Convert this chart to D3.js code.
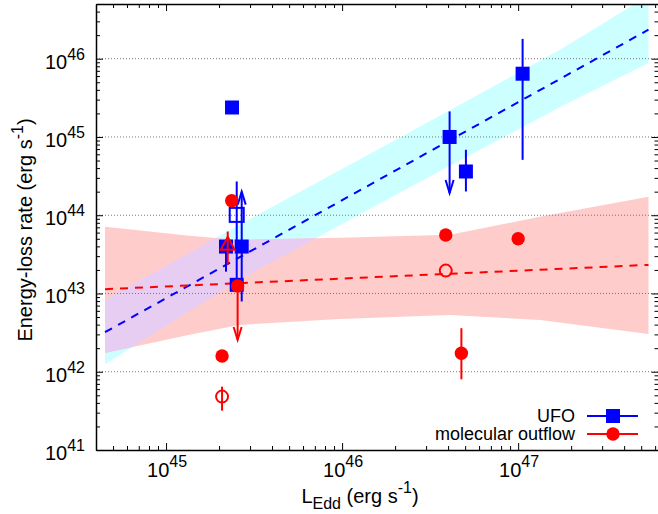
<!DOCTYPE html>
<html>
<head>
<meta charset="utf-8">
<script src="https://cdn.jsdelivr.net/npm/d3@7"></script>
<style>
body{margin:0;background:#fff}
svg{display:block;font-family:"Liberation Sans",Arial,sans-serif}
</style>
</head>
<body>
<div id="chart"></div>
<script>
// axis ranges and tick exponents
const xDomain=[4e44,6.27e47];
const yDomain=[1e41,5e46];
const xTickExps=[45,46,47];
const yTickExps=[41,42,43,44,45,46];
const gridExps=[42,43,44,45,46];

// UFO points (lo/hi = error bar ends, limit = arrow direction)
const ufoPoints=[
  {x:2.37e45,y:2.38e45},
  {x:2.19e45,y:3.98e43,lo:1.9e43},
  {x:2.52e45,y:1.01e44,lo:1.5e43,hi:2.7e44,open:true},
  {x:2.69e45,y:3.98e43,lo:7.9e42,hi:2.0e44,limit:'lower'},
  {x:2.52e45,y:1.29e43},
  {x:4.08e46,y:1.0e45,lo:1.92e44,hi:2.12e45,limit:'upper'},
  {x:5.05e46,y:3.62e44,lo:2.01e44,hi:6.86e44},
  {x:1.06e47,y:6.43e45,lo:5.1e44,hi:1.79e46}
];
// molecular outflow points
const outflowPoints=[
  {x:3.88e46,y:5.6e43},
  {x:1.0e47,y:5.0e43},
  {x:4.76e46,y:1.72e42,lo:8.0e41,hi:3.6e42},
  {x:3.88e46,y:1.96e43,open:true},
  {x:2.36e45,y:1.53e44},
  {x:2.24e45,y:4.18e43,lo:2.32e43,hi:6.2e43,tri:true},
  {x:2.55e45,y:1.25e43,lo:2.55e42,limit:'upper'},
  {x:2.08e45,y:1.59e42},
  {x:2.08e45,y:4.81e41,lo:3.18e41,hi:6.45e41,open:true}
];

// best-fit lines and confidence bands
const ufoFit=[{x:4.5e44,y:3.2e42},{x:5.5e47,y:2.35e46}];
const outflowFit=[{x:4.5e44,y:1.135e43},{x:5.5e47,y:2.32e43}];
const ufoBand=[
  {x:4.5e44,lo:1.25e42,hi:8.28e42},
  {x:2.6e45,lo:1.49e43,hi:7.53e43},
  {x:2.12e46,lo:1.93e44,hi:9.77e44},
  {x:1.73e47,lo:2.41e45,hi:1.30e46},
  {x:5.5e47,lo:8.81e45,hi:6.4e46}
];
const outflowBand=[
  {x:4.5e44,lo:1.74e42,hi:7.11e43},
  {x:1.36e45,lo:2.96e42,hi:5.46e43},
  {x:2.6e45,lo:3.96e42,hi:4.84e43},
  {x:9.7e45,lo:4.73e42,hi:5.14e43},
  {x:4.1e46,lo:5.32e42,hi:5.61e43},
  {x:1.33e47,lo:4.59e42,hi:9.55e43},
  {x:5.5e47,lo:3.04e42,hi:1.72e44}
];
const legendLabels=['UFO','molecular outflow'];

const W=658,H=514,L=96,R=658.5,T=4,B=450;
const blue='#0000ff',red='#ff0000';

const svg=d3.select('#chart').append('svg').attr('width',W).attr('height',H);
const x=d3.scaleLog().domain(xDomain).range([L,R]);
const y=d3.scaleLog().domain(yDomain).range([B,T]);

const defs=svg.append('defs');
defs.append('clipPath').attr('id','plot').append('rect')
  .attr('x',L).attr('y',T).attr('width',R-L).attr('height',B-T);
const area=d3.area().x(d=>x(d.x)).y0(d=>y(d.lo)).y1(d=>y(d.hi));
defs.append('clipPath').attr('id','pinkclip').append('path').attr('d',area(outflowBand));

const bands=svg.append('g').attr('clip-path','url(#plot)');
bands.append('path').attr('d',area(ufoBand)).attr('fill','#ccffff');
bands.append('path').attr('d',area(outflowBand)).attr('fill','#ffcccc');
bands.append('g').attr('clip-path','url(#pinkclip)')
  .append('path').attr('d',area(ufoBand)).attr('fill','#e8cdf2');

// grid
svg.append('g').selectAll('line').data(gridExps).join('line')
  .attr('x1',L).attr('x2',R)
  .attr('y1',d=>y(Math.pow(10,d))).attr('y2',d=>y(Math.pow(10,d)))
  .attr('stroke','#777').attr('stroke-width',1).attr('stroke-dasharray','1,2');

// axes with minor ticks
const isMajor=v=>Math.abs(Math.log10(v)-Math.round(Math.log10(v)))<1e-6;
const logTicks=dom=>{
  const out=[];
  for(let e=Math.floor(Math.log10(dom[0]));e<=Math.ceil(Math.log10(dom[1]));e++)
    for(let k=1;k<10;k++){const v=k*Math.pow(10,e);if(v>=dom[0]*0.999&&v<=dom[1])out.push(v);}
  return out;
};
const xt=logTicks(xDomain),yt=logTicks(yDomain);
function styleAxis(g,horiz,sign){
  g.select('.domain').attr('stroke','#000').attr('stroke-width',1.5);
  g.selectAll('.tick text').remove();
  g.selectAll('.tick line').attr('stroke','#000').attr('stroke-width',1)
    .attr(horiz?'y2':'x2',d=>sign*(isMajor(d)?7:4));
}
svg.append('g').attr('transform',`translate(0,${B})`)
  .call(d3.axisBottom(x).tickValues(xt).tickSizeOuter(0)).call(g=>styleAxis(g,true,-1));
svg.append('g').attr('transform',`translate(0,${T})`)
  .call(d3.axisTop(x).tickValues(xt).tickSizeOuter(0)).call(g=>styleAxis(g,true,1));
svg.append('g').attr('transform',`translate(${L},0)`)
  .call(d3.axisLeft(y).tickValues(yt).tickSizeOuter(0)).call(g=>styleAxis(g,false,1));
svg.append('g').attr('transform',`translate(${R},0)`)
  .call(d3.axisRight(y).tickValues(yt).tickSizeOuter(0)).call(g=>styleAxis(g,false,-1));

// tick labels
const yl=svg.append('g').selectAll('text').data(yTickExps).join('text')
  .attr('x',85).attr('y',d=>y(Math.pow(10,d))+10).attr('text-anchor','end')
  .attr('font-size',20).attr('fill','#000');
yl.append('tspan').text('10');
yl.append('tspan').attr('dy',-9).attr('font-size',16).text(d=>d);
const xl=svg.append('g').selectAll('text').data(xTickExps).join('text')
  .attr('x',d=>x(Math.pow(10,d))+1).attr('y',477).attr('text-anchor','middle')
  .attr('font-size',20).attr('fill','#000');
xl.append('tspan').text('10');
xl.append('tspan').attr('dy',-10).attr('font-size',16).text(d=>d);

// axis titles
const xtitle=svg.append('text').attr('x',360).attr('y',503).attr('text-anchor','middle')
  .attr('font-size',20).attr('fill','#000');
xtitle.append('tspan').text('L');
xtitle.append('tspan').attr('dy',6).attr('font-size',16).text('Edd');
xtitle.append('tspan').attr('dy',-6).text(' (erg s');
xtitle.append('tspan').attr('dy',-10).attr('font-size',16).text('-1');
xtitle.append('tspan').attr('dy',10).text(')');
const ytitle=svg.append('text').attr('transform',`translate(32,${(T+B)/2+3}) rotate(-90)`)
  .attr('text-anchor','middle').attr('font-size',20).attr('fill','#000');
ytitle.append('tspan').text('Energy-loss rate (erg s');
ytitle.append('tspan').attr('dy',-9).attr('font-size',16).text('-1');
ytitle.append('tspan').attr('dy',9).text(')');

// fit lines
const line=d3.line().x(d=>x(d.x)).y(d=>y(d.y));
const fits=svg.append('g').attr('clip-path','url(#plot)');
fits.append('path').attr('d',line(ufoFit)).attr('stroke',blue).attr('stroke-width',2)
  .attr('fill','none').attr('stroke-dasharray','8,7');
fits.append('path').attr('d',line(outflowFit)).attr('stroke',red).attr('stroke-width',2)
  .attr('fill','none').attr('stroke-dasharray','8,7');

// markers
function drawSymbol(g,cx,cy,color,shape,open){
  if(shape==='square'){
    g.append('rect').attr('x',cx-7).attr('y',cy-7).attr('width',14).attr('height',14)
      .attr('fill',open?'none':color).attr('stroke',open?color:'none').attr('stroke-width',2);
  }else if(shape==='tri'){
    g.append('path').attr('d',`M${cx},${cy-8}L${cx-7},${cy+5}L${cx+7},${cy+5}Z`)
      .attr('fill','none').attr('stroke',color).attr('stroke-width',2);
  }else{
    g.append('circle').attr('cx',cx).attr('cy',cy).attr('r',open?6:6.7)
      .attr('fill',open?'none':color).attr('stroke',open?color:'none').attr('stroke-width',2);
  }
}
function drawSeries(data,color,shape){
  const g=svg.append('g');
  data.forEach(d=>{
    const cx=x(d.x),cy=y(d.y);
    const top=d.hi?y(d.hi):cy,bot=d.lo?y(d.lo):cy;
    if(top!==cy||bot!==cy)
      g.append('line').attr('x1',cx).attr('x2',cx).attr('y1',top).attr('y2',bot)
        .attr('stroke',color).attr('stroke-width',2);
    if(d.limit==='upper')
      g.append('path').attr('d',`M${cx-4},${bot-13}L${cx},${bot}L${cx+4},${bot-13}`)
        .attr('stroke',color).attr('stroke-width',2).attr('fill','none');
    if(d.limit==='lower')
      g.append('path').attr('d',`M${cx-4},${top+13}L${cx},${top}L${cx+4},${top+13}`)
        .attr('stroke',color).attr('stroke-width',2).attr('fill','none');
    drawSymbol(g,cx,cy,color,d.tri?'tri':shape,d.open);
  });
}
drawSeries(ufoPoints,blue,'square');
drawSeries(outflowPoints,red,'circle');

// legend
const leg=svg.append('g');
legendLabels.forEach((lab,i)=>{
  const ly=416+i*18,color=i===0?blue:red;
  leg.append('text').attr('x',575).attr('y',ly+6).attr('text-anchor','end')
    .attr('font-size',18).attr('fill','#000').text(lab);
  leg.append('line').attr('x1',587).attr('x2',638).attr('y1',ly).attr('y2',ly)
    .attr('stroke',color).attr('stroke-width',2);
  drawSymbol(leg,613,ly,color,i===0?'square':'circle',false);
});
</script>
</body>
</html>
